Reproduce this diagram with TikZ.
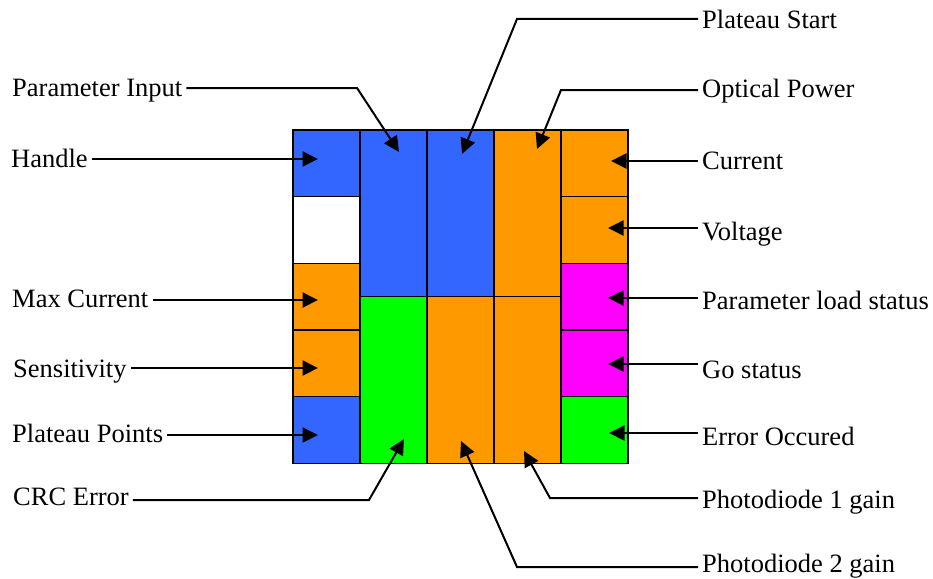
\documentclass[tikz,border=0pt]{standalone}
\usepackage{fontspec}
\setmainfont{Liberation Serif}
\usepackage{tikz}
\usetikzlibrary{arrows.meta,positioning}
\definecolor{regblue}{HTML}{3366FF}
\definecolor{regorange}{HTML}{FF9900}
\definecolor{reggreen}{HTML}{00FF00}
\definecolor{regmagenta}{HTML}{FF00FF}
\tikzset{
  cell/.style={draw=black, line width=1.4pt, inner sep=0pt, outer sep=0pt, minimum width=67pt, minimum height=66.67pt},
  tallcell/.style={cell, minimum height=166.67pt},
  lbl/.style={font=\fontsize{26.5}{30}\selectfont, inner sep=4pt, anchor=base west},
  pin/.style={-{Triangle[length=15.5pt, width=15pt]}, line width=2pt, line join=miter}
}

\begin{document}
\begin{tikzpicture}[x=1pt, y=-1pt, node distance=0pt]
  \useasboundingbox (0,0) rectangle (933,578);
  % register cells
  \node[cell, fill=regblue] (hdl) at (326.5,163.33) {};
  \node[cell, fill=white, below=of hdl] (blank) {};
  \node[cell, fill=regorange, below=of blank] (maxc) {};
  \node[cell, fill=regorange, below=of maxc] (sens) {};
  \node[cell, fill=regblue, below=of sens] (ppts) {};
  \node[tallcell, fill=regblue, anchor=north west] (parin) at (hdl.north east) {};
  \node[tallcell, fill=reggreen, below=of parin] (crc) {};
  \node[tallcell, fill=regblue, right=of parin] (pstart) {};
  \node[tallcell, fill=regorange, below=of pstart] (pdtwo) {};
  \node[tallcell, fill=regorange, right=of pstart] (opt) {};
  \node[tallcell, fill=regorange, below=of opt] (pdone) {};
  \node[cell, fill=regorange, anchor=north west] (cur) at (opt.north east) {};
  \node[cell, fill=regorange, below=of cur] (volt) {};
  \node[cell, fill=regmagenta, below=of volt] (pls) {};
  \node[cell, fill=regmagenta, below=of pls] (gos) {};
  \node[cell, fill=reggreen, below=of gos] (err) {};
  % labels left
  \node[lbl] (lParIn) at (8,96) {Parameter Input};
  \node[lbl] (lHdl) at (7,167) {Handle};
  \node[lbl] (lMaxC) at (8,307) {Max Current};
  \node[lbl] (lSens) at (9,377) {Sensitivity};
  \node[lbl] (lPPts) at (8,442) {Plateau Points};
  \node[lbl] (lCrc) at (9,505) {CRC Error};
  % labels right
  \node[lbl] (rPStart) at (698,29) {Plateau Start};
  \node[lbl] (rOpt) at (698,97) {Optical Power};
  \node[lbl] (rCur) at (698,169) {Current};
  \node[lbl] (rVolt) at (698,240) {Voltage};
  \node[lbl] (rPls) at (698,309) {Parameter load status};
  \node[lbl] (rGos) at (698,378) {Go status};
  \node[lbl] (rErr) at (698,445) {Error Occured};
  \node[lbl] (rPdOne) at (698,508) {Photodiode 1 gain};
  \node[lbl] (rPdTwo) at (698,572) {Photodiode 2 gain};
  % bends and tips
  \coordinate (tHdl) at (318,159);
  \coordinate (tMaxC) at (318,300);
  \coordinate (tSens) at (318,368);
  \coordinate (tPPts) at (318,435);
  \coordinate (bParIn) at (357,88);
  \coordinate (tParIn) at (399,152);
  \coordinate (bCrc) at (369,500);
  \coordinate (tCrc) at (404,439);
  \coordinate (bPStart) at (517,19);
  \coordinate (tPStart) at (462,154);
  \coordinate (bOpt) at (561,90);
  \coordinate (tOpt) at (537,149);
  \coordinate (bPdOne) at (550,498);
  \coordinate (tPdOne) at (524,451);
  \coordinate (bPdTwo) at (517,567);
  \coordinate (tPdTwo) at (461,441);
  \coordinate (tCur) at (611,161);
  \coordinate (tVolt) at (608,228);
  \coordinate (tPls) at (608,298);
  \coordinate (tGos) at (608,364);
  \coordinate (tErr) at (609,433);
  % arrows
  \draw[pin] (lHdl.east |- tHdl) -- (tHdl);
  \draw[pin] (lMaxC.east |- tMaxC) -- (tMaxC);
  \draw[pin] (lSens.east |- tSens) -- (tSens);
  \draw[pin] (lPPts.east |- tPPts) -- (tPPts);
  \draw[pin] (lParIn.east |- bParIn) -- (bParIn) -- (tParIn);
  \draw[pin] (lCrc.east |- bCrc) -- (bCrc) -- (tCrc);
  \draw[pin] (rPStart.west |- bPStart) -- (bPStart) -- (tPStart);
  \draw[pin] (rOpt.west |- bOpt) -- (bOpt) -- (tOpt);
  \draw[pin] (rPdOne.west |- bPdOne) -- (bPdOne) -- (tPdOne);
  \draw[pin] (rPdTwo.west |- bPdTwo) -- (bPdTwo) -- (tPdTwo);
  \draw[pin] (rCur.west |- tCur) -- (tCur);
  \draw[pin] (rVolt.west |- tVolt) -- (tVolt);
  \draw[pin] (rPls.west |- tPls) -- (tPls);
  \draw[pin] (rGos.west |- tGos) -- (tGos);
  \draw[pin] (rErr.west |- tErr) -- (tErr);
\end{tikzpicture}
\end{document}
